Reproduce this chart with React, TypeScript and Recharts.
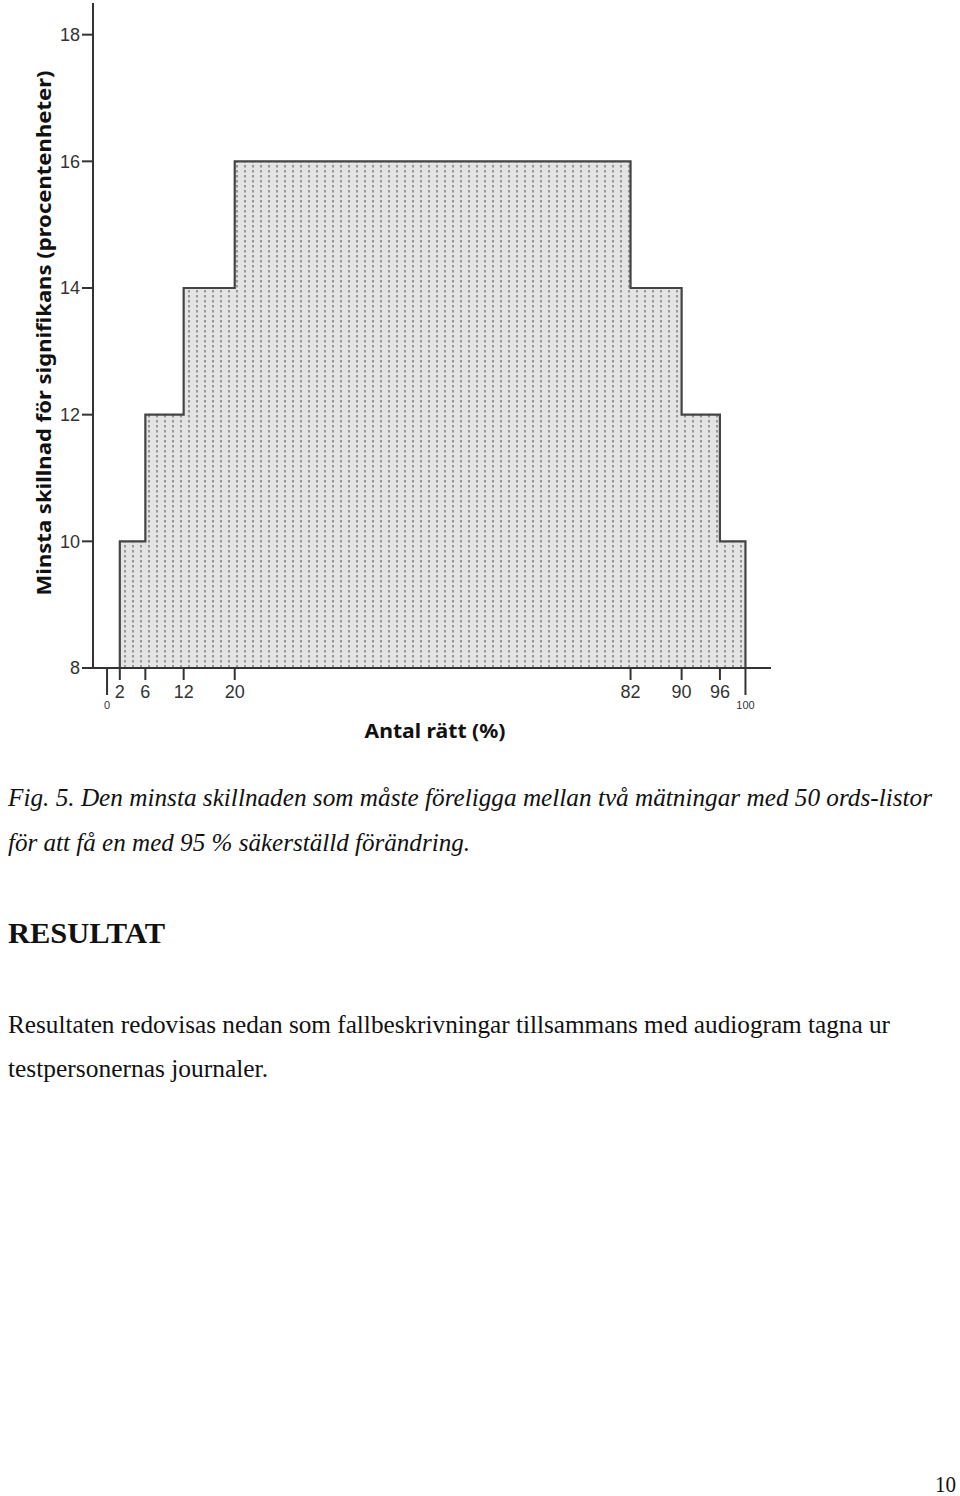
import { AreaChart, Area, XAxis, YAxis } from 'recharts';

// step outline of the area (x = % correct, y = minimum significant difference)
const stepX = [2, 2, 6, 12, 20, 82, 90, 96, 100, 100];
const stepY = [8, 10, 12, 14, 16, 14, 12, 10, 10, 8];
const xTicks = [0, 2, 6, 12, 20, 82, 90, 96, 100];
const edgeTicks = [0, 100];
const yTicks = [8, 10, 12, 14, 16, 18];

const yLabel = 'Minsta skillnad för signifikans (procentenheter)';
const xLabel = 'Antal rätt (%)';
const captionLines = [
  'Fig. 5. Den minsta skillnaden som måste föreligga mellan två mätningar med 50 ords-listor',
  'för att få en med 95 % säkerställd förändring.',
];
const heading = 'RESULTAT';
const bodyLines = [
  'Resultaten redovisas nedan som fallbeskrivningar tillsammans med audiogram tagna ur',
  'testpersonernas journaler.',
];
const pageNumber = '10';

const data = stepX.map((x, i) => ({ x, y: stepY[i] }));

const AXIS = '#333';
const SANS = '"Liberation Sans", Arial, sans-serif';
const SERIF = '"Liberation Serif", "Times New Roman", serif';

function XTick({ x, y, payload }: any) {
  const edge = edgeTicks.includes(payload.value);
  return (
    <g>
      <line x1={x} x2={x} y1={y} y2={y + (edge ? 27 : 12)} stroke={AXIS} strokeWidth={2} />
      <text
        x={x}
        y={y + (edge ? 41 : 30)}
        textAnchor="middle"
        fontSize={edge ? 11 : 18}
        fill="#333"
        fontFamily={SANS}
      >
        {payload.value}
      </text>
    </g>
  );
}

export default function App() {
  return (
    <div style={{ position: 'absolute', left: 0, top: 0, width: 960, height: 1496, background: '#fff' }}>
      <svg width={0} height={0} style={{ position: 'absolute' }}>
        <defs>
          <pattern id="dots" width={8} height={5} patternUnits="userSpaceOnUse">
            <rect width={8} height={5} fill="#e4e4e4" />
            <line x1={5} x2={5} y1={0} y2={2.5} stroke="#6e6e6e" strokeWidth={1.3} />
          </pattern>
        </defs>
      </svg>

      <AreaChart
        width={960}
        height={760}
        data={data}
        margin={{ top: 3, right: 189, bottom: 0, left: 0 }}
        style={{ position: 'absolute', left: 0, top: 0 }}
      >
        <XAxis
          dataKey="x"
          type="number"
          domain={[-2.2, 104]}
          ticks={xTicks}
          allowDataOverflow
          height={92}
          tickSize={0}
          tickMargin={0}
          tickLine={false}
          axisLine={{ stroke: AXIS, strokeWidth: 2 }}
          tick={<XTick />}
          interval={0}
          label={(props: any) => {
            const vb = props.viewBox || {};
            return (
              <text
                x={435}
                y={(vb.y ?? 668) + 70}
                textAnchor="middle"
                fontSize={20}
                fontWeight="bold"
                fill="#111"
                fontFamily='"Noto Sans", "Open Sans", sans-serif'
                textLength={141}
                lengthAdjust="spacingAndGlyphs"
              >
                {xLabel}
              </text>
            );
          }}
        />
        <YAxis
          type="number"
          domain={[8, 18.5]}
          ticks={yTicks}
          allowDataOverflow
          width={93}
          tickSize={11}
          tickMargin={2}
          tickLine={{ stroke: AXIS, strokeWidth: 2 }}
          axisLine={{ stroke: AXIS, strokeWidth: 2 }}
          tick={{ fontSize: 18, fill: '#333', fontFamily: SANS }}
          label={() => (
            <text
              x={51}
              y={333}
              transform="rotate(-90 51 333)"
              textAnchor="middle"
              fontSize={20}
              fontWeight="bold"
              fill="#111"
              fontFamily='"Noto Sans", "Open Sans", sans-serif'
              textLength={525}
              lengthAdjust="spacingAndGlyphs"
            >
              {yLabel}
            </text>
          )}
        />
        <Area
          type="stepAfter"
          dataKey="y"
          baseValue={8}
          stroke="#444"
          strokeWidth={2.2}
          fill="url(#dots)"
          fillOpacity={1}
          dot={false}
          activeDot={false}
          isAnimationActive={false}
        />
      </AreaChart>

      <svg width={960} height={1496} style={{ position: 'absolute', left: 0, top: 0, pointerEvents: 'none' }}>
        <g fontFamily={SERIF} fill="#111">
          <text x={8} y={806} fontSize={25} fontStyle="italic" textLength={924} lengthAdjust="spacingAndGlyphs">
            {captionLines[0]}
          </text>
          <text x={8} y={851} fontSize={25} fontStyle="italic" textLength={462} lengthAdjust="spacingAndGlyphs">
            {captionLines[1]}
          </text>
          <text x={8} y={943} fontSize={30} fontWeight="bold" textLength={157} lengthAdjust="spacingAndGlyphs">
            {heading}
          </text>
          <text x={8} y={1033} fontSize={26} textLength={882} lengthAdjust="spacingAndGlyphs">
            {bodyLines[0]}
          </text>
          <text x={8} y={1077} fontSize={26} textLength={260} lengthAdjust="spacingAndGlyphs">
            {bodyLines[1]}
          </text>
          <text x={935} y={1492} fontSize={24} textLength={21} lengthAdjust="spacingAndGlyphs">
            {pageNumber}
          </text>
        </g>
      </svg>
    </div>
  );
}
